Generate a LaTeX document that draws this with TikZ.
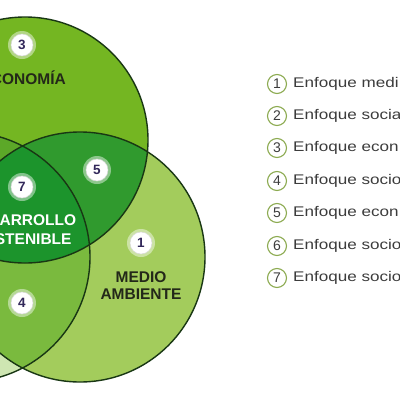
\documentclass[tikz,border=0pt]{standalone}
\usepackage{fontspec}
\setmainfont{Liberation Sans}
\definecolor{cthree}{RGB}{116,182,34}
\definecolor{cfive}{RGB}{48,154,46}
\definecolor{cone}{RGB}{163,204,92}
\definecolor{cseven}{RGB}{28,148,44}
\definecolor{cfour}{RGB}{122,186,62}
\definecolor{csix}{RGB}{92,168,40}
\definecolor{ctwo}{RGB}{206,230,178}
\definecolor{outl}{RGB}{25,55,20}
\definecolor{numc}{RGB}{50,40,90}
\definecolor{legc}{RGB}{140,170,80}
\definecolor{legtext}{RGB}{60,60,60}
\definecolor{labdark}{RGB}{35,40,25}
\begin{document}
\begin{tikzpicture}[x=1pt,y=-1pt,
  ring/.style={draw=outl, line width=1.4pt},
  halo/.style={circle, fill=white, opacity=0.45, minimum size=28pt, inner sep=0pt},
  num/.style={circle, fill=white, draw=black!15, line width=0.5pt, minimum size=22pt, inner sep=0pt, font=\bfseries\fontsize{13.5}{13.5}\selectfont, text=numc},
  lab/.style={font=\bfseries\fontsize{15.5}{17}\selectfont, inner sep=0pt},
  legnum/.style={circle, draw=legc, line width=1.1pt, fill=white, minimum size=19pt, inner sep=0pt, font=\fontsize{14}{14}\selectfont, text=legtext},
  legtxt/.style={anchor=west, font=\fontsize{14}{14}\selectfont, text=legtext, inner sep=0pt}]
\useasboundingbox (0,0) rectangle (400,400);
\fill[white] (0,0) rectangle (400,400);
\clip (0,0) rectangle (400,400);
\coordinate (T) at (25,140);
\coordinate (R) at (80,257);
\coordinate (L) at (-35,257);
% single regions
\fill[ctwo] (L) circle[radius=125pt];
\fill[cone] (R) circle[radius=125pt];
\fill[cthree] (T) circle[radius=123pt];
% pairwise
\begin{scope}
  \clip (L) circle[radius=125pt];
  \fill[cfour] (R) circle[radius=125pt];
\end{scope}
\begin{scope}
  \clip (T) circle[radius=123pt];
  \fill[csix] (L) circle[radius=125pt];
\end{scope}
\begin{scope}
  \clip (T) circle[radius=123pt];
  \fill[cfive] (R) circle[radius=125pt];
\end{scope}
% centre
\begin{scope}
  \clip (T) circle[radius=123pt];
  \clip (L) circle[radius=125pt];
  \fill[cseven] (R) circle[radius=125pt];
\end{scope}
% outlines
\draw[ring] (L) circle[radius=125pt];
\draw[ring] (R) circle[radius=125pt];
\draw[ring] (T) circle[radius=123pt];
% numbers in circles
\foreach \n/\x/\y in {3/22/45, 5/97/170, 7/22/187, 1/141/243, 4/22/303}{
  \node[halo] (h\n) at (\x,\y) {};
  \node[num] (n\n) at (\x,\y) {\n};
}
% labels
\node[lab, text=labdark, anchor=east] (eco) at (66,78) {ECONOMÍA};
\node[lab, text=white] (des1) at (22,220) {DESARROLLO};
\node[lab, text=white] (des2) at (22,239) {SOSTENIBLE};
\node[lab, text=labdark] (med1) at (141,277) {MEDIO};
\node[lab, text=labdark] (med2) at (141,294.5) {AMBIENTE};
% legend
\foreach \n/\y/\t in {1/84/medi, 2/116/socia, 3/148/econ, 4/181/socio, 5/213/econ, 6/246/socio, 7/278/socio}{
  \node[legnum] (l\n) at (277,\y) {\n};
  \node[legtxt] (t\n) at (293,\y) {\scalebox{1.22}[1]{Enfoque \t}};
}
\end{tikzpicture}
\end{document}
